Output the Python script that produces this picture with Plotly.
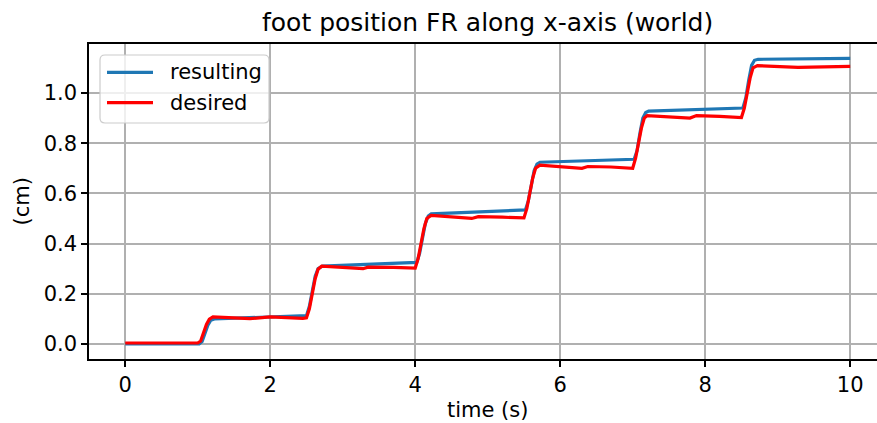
import plotly.graph_objects as go

# Foot position of the front-right leg along the world x-axis
t_resulting = [0.0, 1.02, 1.06, 1.10, 1.14, 1.18, 1.23,
               2.50, 2.54, 2.58, 2.62, 2.66, 2.72,
               4.02, 4.06, 4.10, 4.14, 4.18, 4.22,
               5.52, 5.56, 5.60, 5.64, 5.68, 5.72,
               7.02, 7.06, 7.10, 7.14, 7.18, 7.22,
               8.52, 8.56, 8.60, 8.64, 8.68, 8.73, 10.0]
x_resulting = [0.000, 0.000, 0.010, 0.040, 0.075, 0.095, 0.100,
               0.113, 0.150, 0.210, 0.270, 0.300, 0.310,
               0.325, 0.360, 0.420, 0.480, 0.510, 0.518,
               0.534, 0.570, 0.630, 0.690, 0.717, 0.724,
               0.736, 0.770, 0.840, 0.900, 0.922, 0.928,
               0.940, 0.980, 1.050, 1.110, 1.130, 1.134, 1.138]

t_desired = [0.0, 1.00, 1.04, 1.08, 1.12, 1.16, 1.21, 1.72, 2.00, 2.45,
             2.50, 2.54, 2.58, 2.62, 2.66, 2.71, 3.28, 3.35, 3.70, 4.00,
             4.04, 4.08, 4.12, 4.16, 4.22, 4.78, 4.87, 5.20, 5.50,
             5.54, 5.58, 5.62, 5.66, 5.72, 6.30, 6.38, 6.70, 7.00,
             7.04, 7.08, 7.12, 7.16, 7.20, 7.79, 7.88, 8.20, 8.50,
             8.54, 8.58, 8.62, 8.66, 8.72, 9.28, 10.0]
x_desired = [0.004, 0.004, 0.012, 0.045, 0.078, 0.099, 0.108, 0.101, 0.108, 0.102,
             0.104, 0.140, 0.200, 0.260, 0.298, 0.310, 0.300, 0.306, 0.305, 0.302,
             0.340, 0.400, 0.460, 0.500, 0.512, 0.500, 0.507, 0.505, 0.502,
             0.540, 0.600, 0.660, 0.700, 0.712, 0.700, 0.707, 0.705, 0.700,
             0.740, 0.800, 0.860, 0.900, 0.910, 0.900, 0.910, 0.907, 0.902,
             0.940, 1.000, 1.060, 1.100, 1.109, 1.102, 1.106]

series_names = ["resulting", "desired"]
series_colors = ["#1f77b4", "#ff0000"]

x_ticks = [0, 2, 4, 6, 8, 10]
y_ticks = [0.0, 0.2, 0.4, 0.6, 0.8, 1.0]
y_tick_text = ["0.0", "0.2", "0.4", "0.6", "0.8", "1.0"]

FONT = "DejaVu Sans"
W, H = 877, 423
PL, PR, PT, PB = 89, 877, 44, 359          # plot area in pixels
PW, PH = PR - PL, PB - PT


def px(x):
    return (x - PL) / PW


def py(y):
    return (PB - y) / PH


fig = go.Figure()
for t, v, name, color in [(t_resulting, x_resulting, series_names[0], series_colors[0]),
                          (t_desired, x_desired, series_names[1], series_colors[1])]:
    fig.add_trace(go.Scatter(x=t, y=v, mode="lines", name=name,
                             line=dict(color=color, width=3.2), showlegend=False))

axis_common = dict(
    showline=True, linecolor="black", linewidth=1.5,
    ticks="outside", ticklen=6, tickwidth=1.5, tickcolor="black",
    showgrid=True, gridcolor="#b0b0b0", gridwidth=1.5,
    zeroline=False, tickfont=dict(family=FONT, size=21, color="black"),
)

fig.update_xaxes(range=[-0.5, 10.37], tickvals=x_ticks, mirror=True, **axis_common)
fig.update_yaxes(range=[-0.0598, 1.195], tickvals=y_ticks, ticktext=y_tick_text, **axis_common)

# legend box with rounded corners
bx0, bx1, by0, by1, r = 100, 269, 55, 123, 5
rx, ry = r / PW, r / PH
x0, x1, y0, y1 = px(bx0), px(bx1), py(by1), py(by0)
legend_path = (f"M{x0 + rx},{y0} L{x1 - rx},{y0} Q{x1},{y0} {x1},{y0 + ry} "
               f"L{x1},{y1 - ry} Q{x1},{y1} {x1 - rx},{y1} "
               f"L{x0 + rx},{y1} Q{x0},{y1} {x0},{y1 - ry} "
               f"L{x0},{y0 + ry} Q{x0},{y0} {x0 + rx},{y0} Z")
shapes = [dict(type="path", xref="paper", yref="paper", path=legend_path,
               fillcolor="rgba(255,255,255,0.8)", line=dict(color="#cccccc", width=1.2),
               layer="above")]
annotations = []
for i, (name, color) in enumerate(zip(series_names, series_colors)):
    yy = 72.3 + i * 30.4
    shapes.append(dict(type="line", xref="paper", yref="paper",
                       x0=px(107), x1=px(153), y0=py(yy), y1=py(yy),
                       line=dict(color=color, width=3.2), layer="above"))
    annotations.append(dict(text=name, xref="paper", yref="paper", x=px(168), y=py(yy),
                            xanchor="left", yanchor="middle", showarrow=False,
                            font=dict(family=FONT, size=21)))

annotations += [
    dict(text="time (s)", xref="paper", yref="paper", x=px(487.5), y=py(410),
         xanchor="center", yanchor="middle", showarrow=False,
         font=dict(family=FONT, size=21)),
    dict(text="(cm)", xref="paper", yref="paper", x=px(21), y=py(201.5),
         xanchor="center", yanchor="middle", textangle=-90, showarrow=False,
         font=dict(family=FONT, size=21)),
    dict(text="foot position FR along x-axis (world)", xref="paper", yref="paper",
         x=px(487.5), y=py(22), xanchor="center", yanchor="middle", showarrow=False,
         font=dict(family=FONT, size=25)),
]

fig.update_layout(
    width=W, height=H,
    margin=dict(l=PL, r=W - PR, t=PT, b=H - PB),
    paper_bgcolor="white", plot_bgcolor="white",
    font=dict(family=FONT, color="black"),
    showlegend=False,
    shapes=shapes,
    annotations=annotations,
)

fig.write_html("out.html")
